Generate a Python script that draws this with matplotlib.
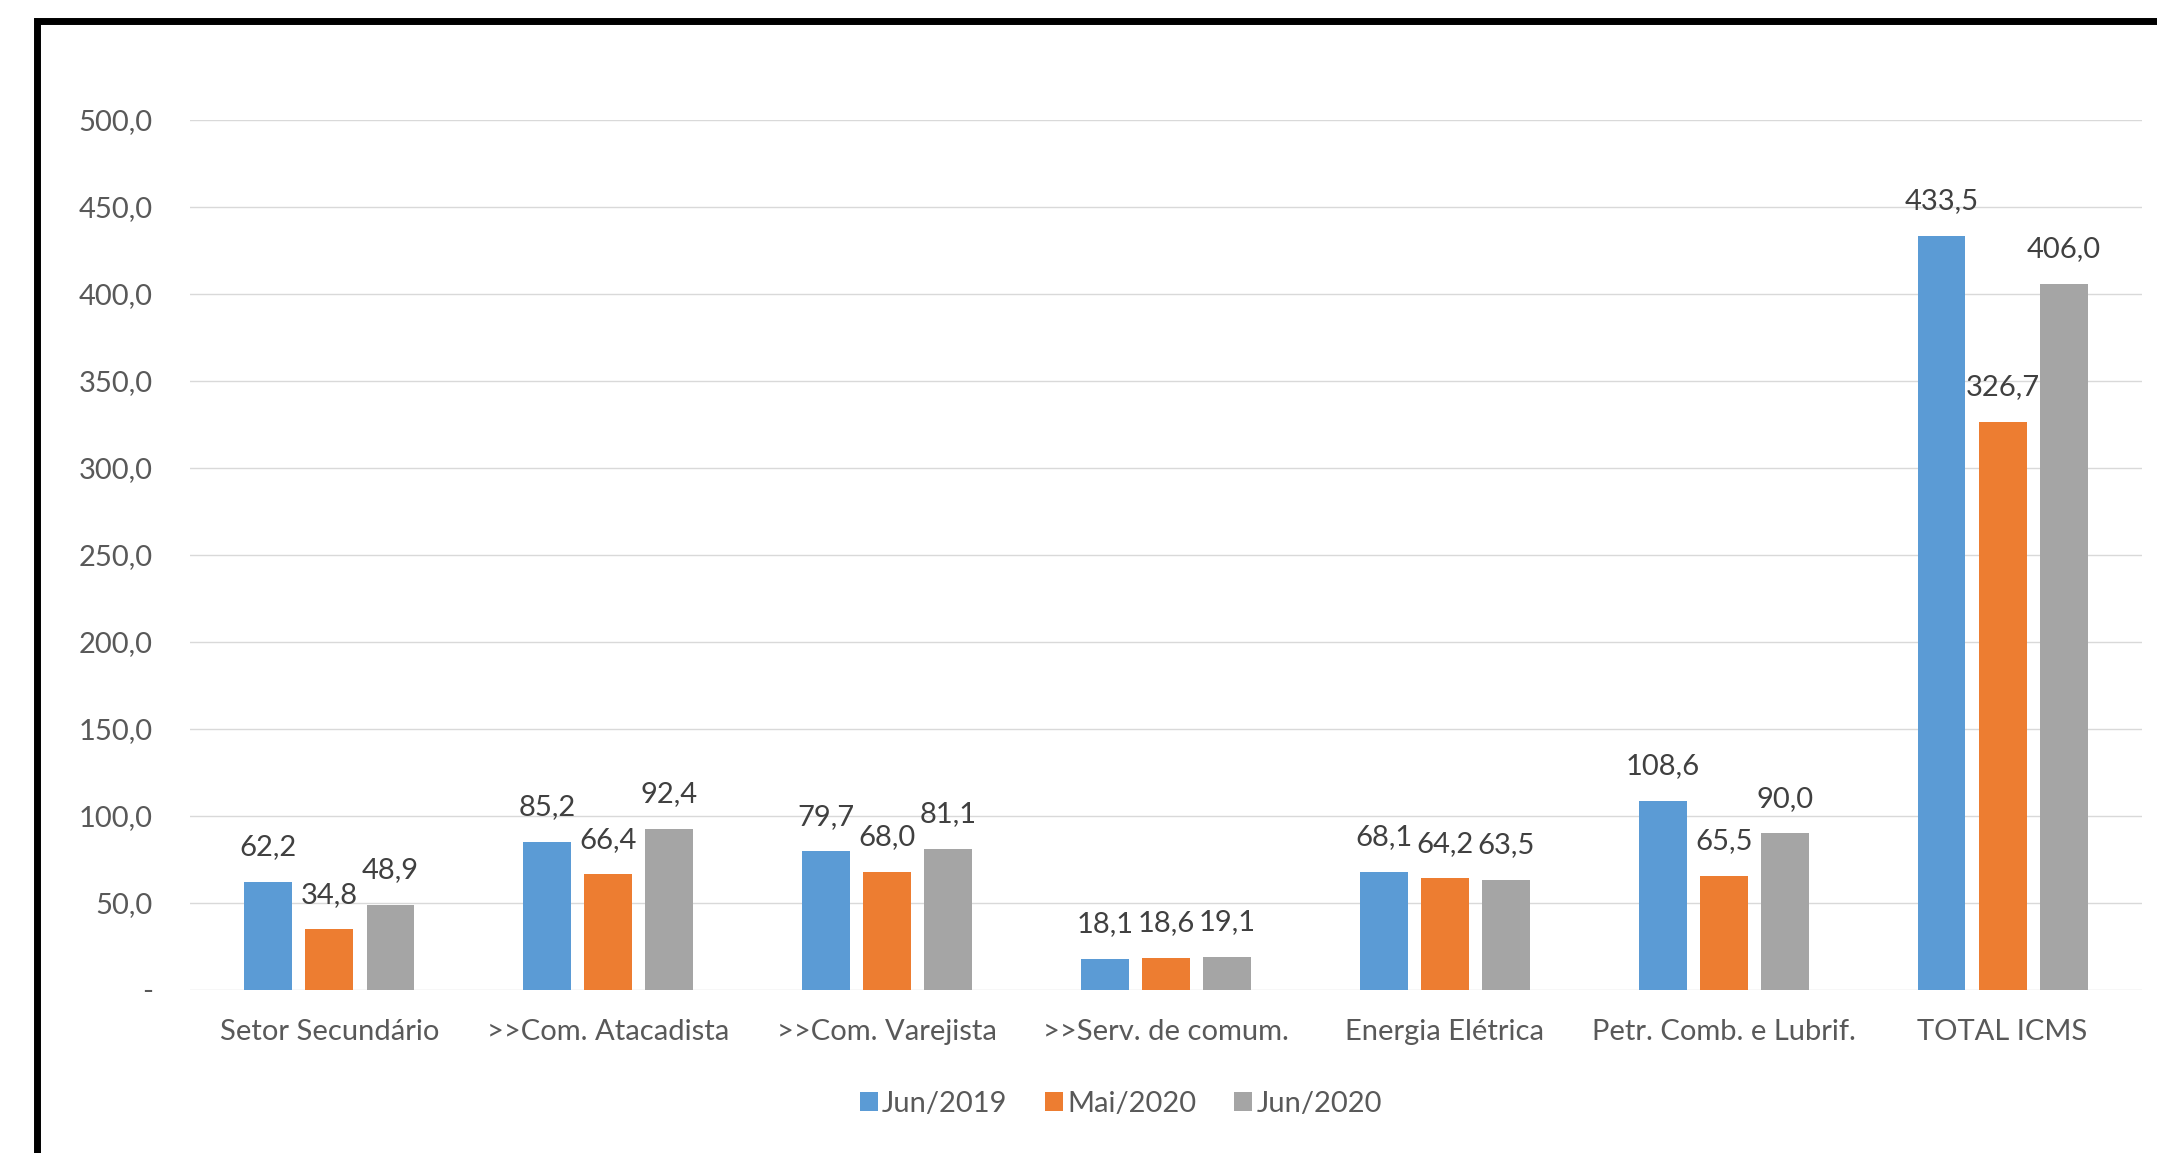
import matplotlib.pyplot as plt
from matplotlib.patches import Rectangle, Patch
from matplotlib.ticker import FuncFormatter, MultipleLocator
import numpy as np

plt.rcParams['font.family'] = ['Lato', 'DejaVu Sans']

# ICMS collection by sector
categories = ["Setor Secundário", ">>Com. Atacadista", ">>Com. Varejista",
              ">>Serv. de comum.", "Energia Elétrica", "Petr. Comb. e Lubrif.",
              "TOTAL ICMS"]
series_names = ["Jun/2019", "Mai/2020", "Jun/2020"]
jun_2019 = [62.2, 85.2, 79.7, 18.1, 68.1, 108.6, 433.5]
mai_2020 = [34.8, 66.4, 68.0, 18.6, 64.2, 65.5, 326.7]
jun_2020 = [48.9, 92.4, 81.1, 19.1, 63.5, 90.0, 406.0]

colors = ["#5B9BD5", "#ED7D31", "#A5A5A5"]
tick_color = "#595959"
label_color = "#404040"

W, H = 2157, 1153
fig = plt.figure(figsize=(W / 100, H / 100), dpi=100)
ax = fig.add_axes([190 / W, 1 - 990 / H, (2142 - 190) / W, (990 - 120) / H])

x = np.arange(len(categories))
bar_w = 0.172
step = 0.219

for i, (vals, col) in enumerate(zip([jun_2019, mai_2020, jun_2020], colors)):
    pos = x + (i - 1) * step
    ax.bar(pos, vals, width=bar_w, color=col, zorder=2)
    for px, v in zip(pos, vals):
        ax.annotate(f"{v:.1f}".replace(".", ","), (px, v),
                    xytext=(0, 25), textcoords="offset points",
                    ha="center", va="center", fontsize=21,
                    color=label_color, annotation_clip=False)

ax.set_xlim(-0.5, len(categories) - 0.5)
ax.set_ylim(0, 500)
ax.yaxis.set_major_locator(MultipleLocator(50))
ax.yaxis.set_major_formatter(FuncFormatter(
    lambda v, p: "-" if v == 0 else f"{v:.1f}".replace(".", ",")))
ax.set_xticks(x)
ax.set_xticklabels(categories)

ax.tick_params(axis="y", length=0, pad=27, labelsize=21, labelcolor=tick_color)
ax.tick_params(axis="x", length=0, pad=21, labelsize=21, labelcolor=tick_color)
for s in ax.spines.values():
    s.set_visible(False)
ax.grid(axis="y", color="#D9D9D9", linewidth=1.0, zorder=0)
ax.set_axisbelow(True)

handles = [Patch(facecolor=c, label=n) for c, n in zip(colors, series_names)]
fig.legend(handles=handles, loc="center", bbox_to_anchor=(1121 / W, 1 - 1104 / H),
           ncol=3, frameon=False, fontsize=21, labelcolor=tick_color,
           handlelength=0.6, handleheight=0.6, handletextpad=0.15,
           columnspacing=1.3)

# heavy frame around the chart area
fig.add_artist(Rectangle((36.5 / W, -0.1), 1.2, 1.1 - 21.5 / H,
                         transform=fig.transFigure, fill=False,
                         edgecolor="black", linewidth=5, clip_on=False))

fig.savefig("out.png", dpi=100)
